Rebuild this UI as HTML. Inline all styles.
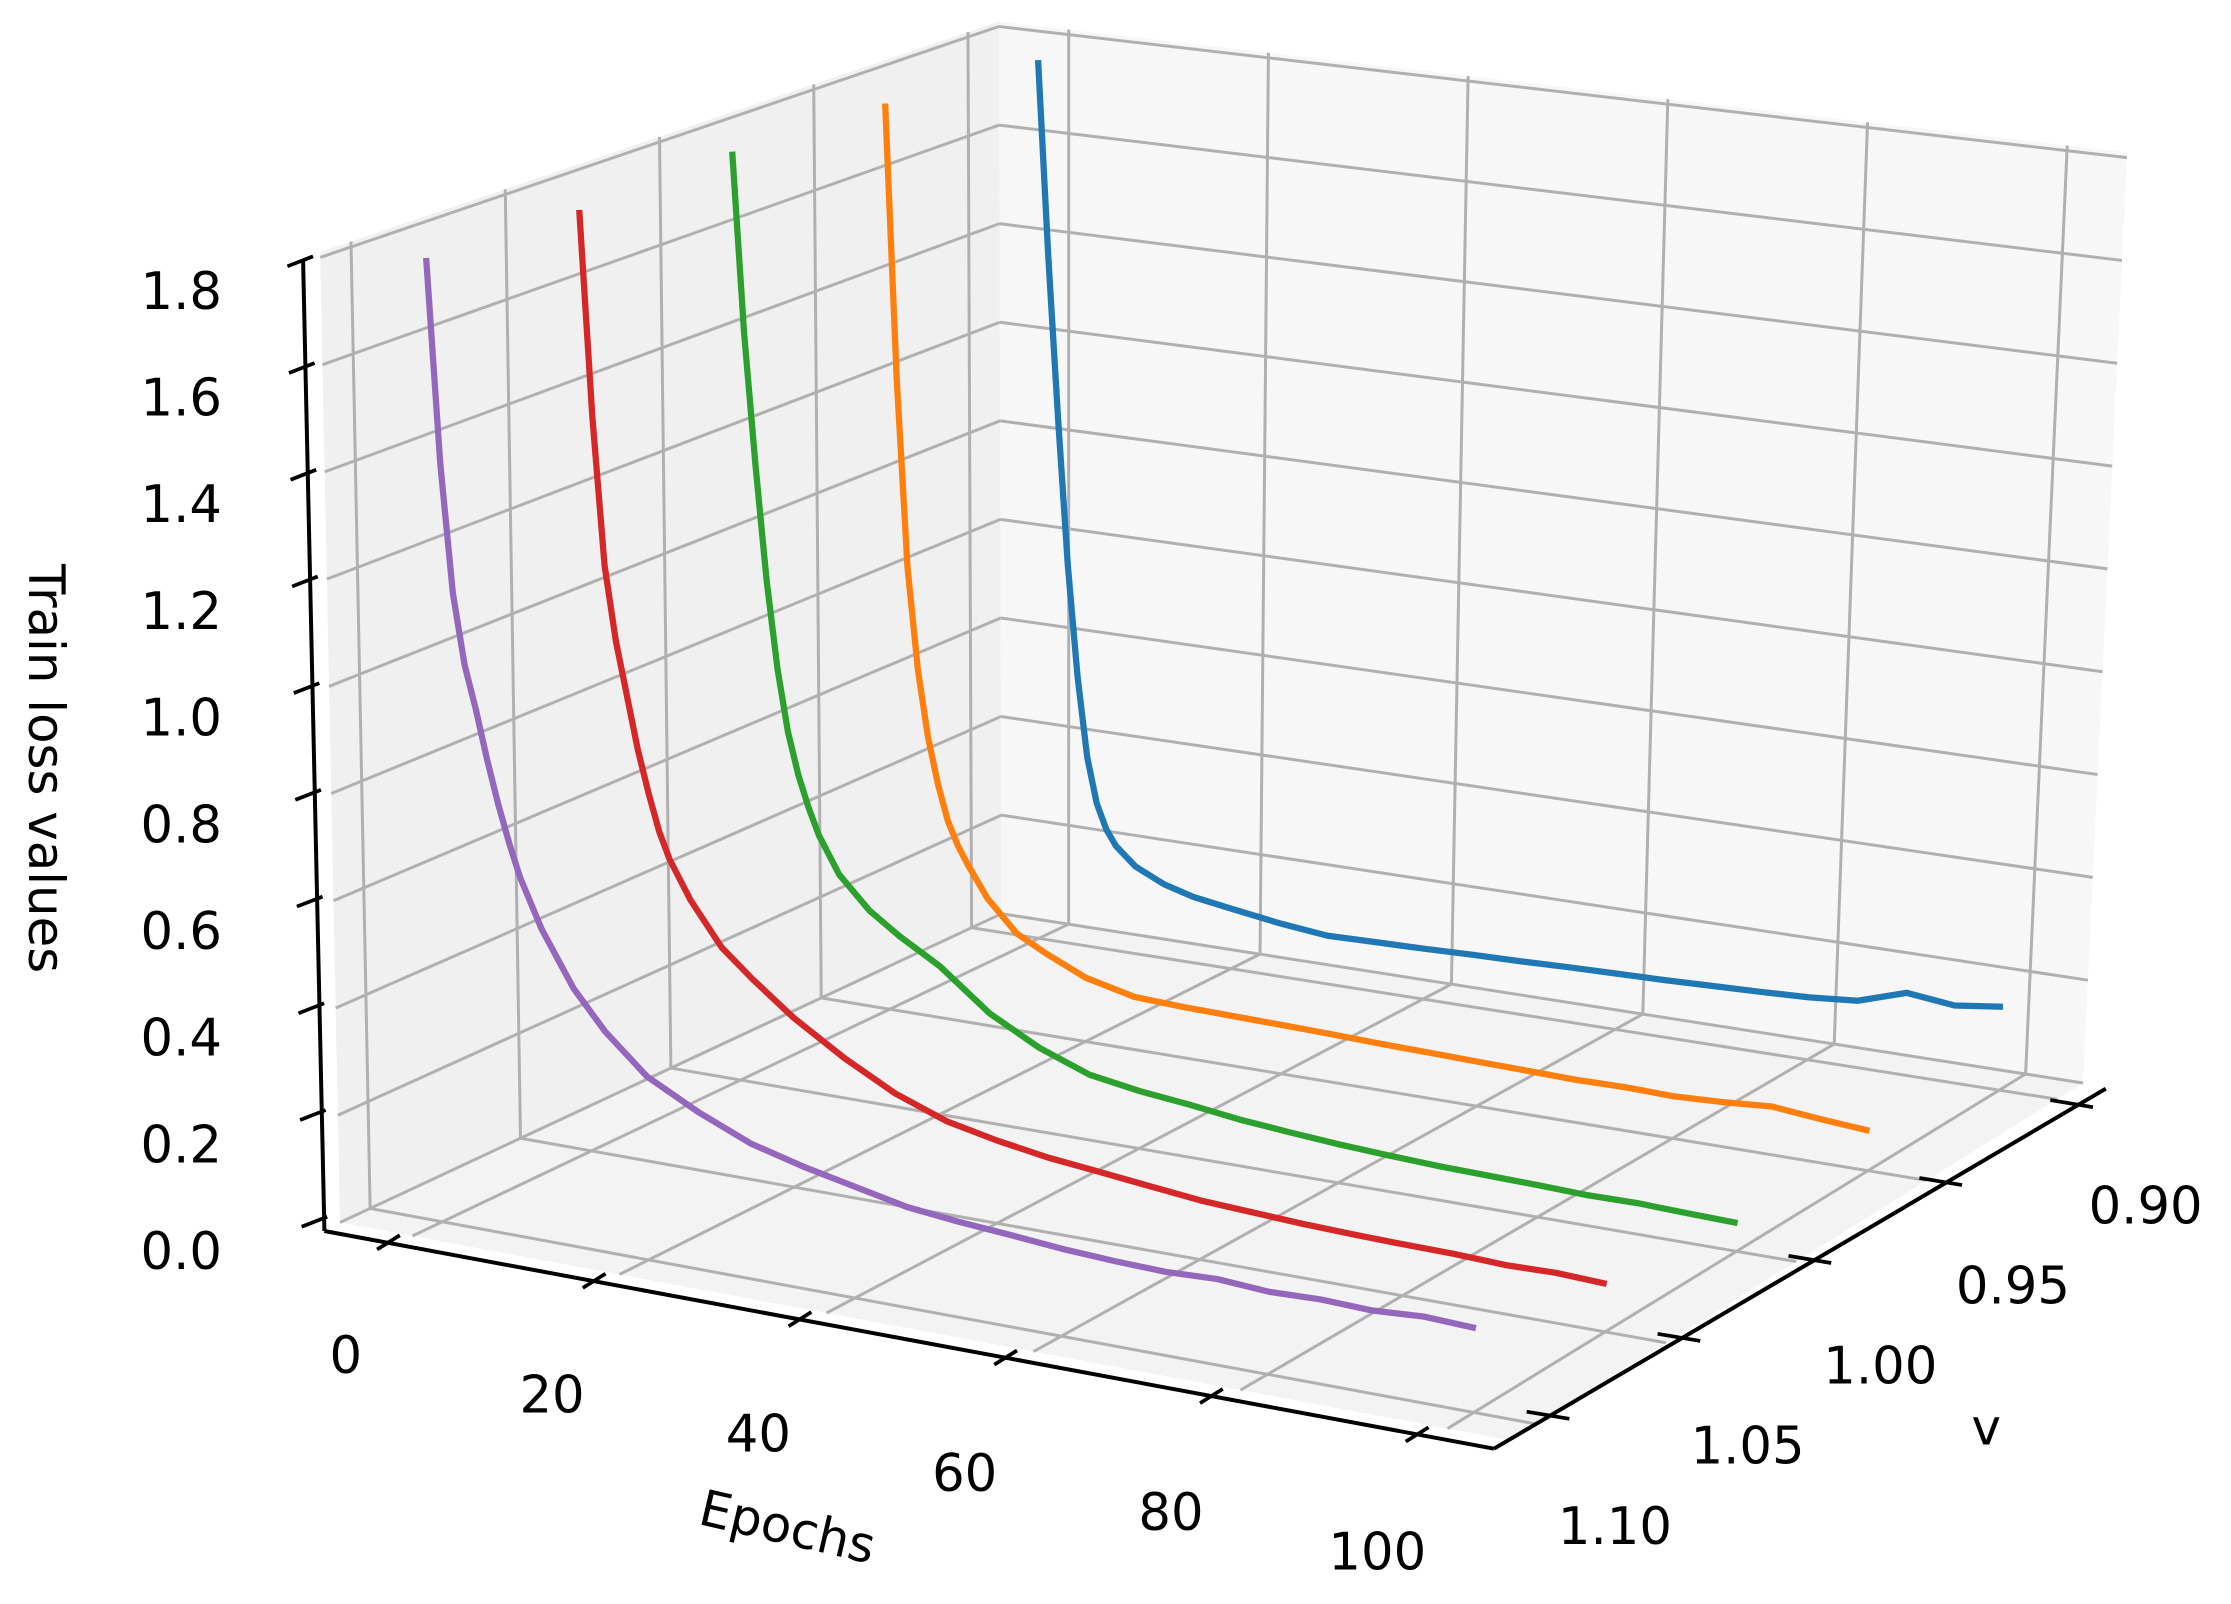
<!DOCTYPE html>
<html><head><meta charset="utf-8"><title>Train loss 3D</title>
<style>
html,body{margin:0;padding:0;background:#fff;}
svg{display:block;}
text{font-family:"DejaVu Sans","Liberation Sans",sans-serif;fill:#000;}
</style></head>
<body>
<svg id="chart" width="2231" height="1604" viewBox="0 0 1568 1127" xmlns="http://www.w3.org/2000/svg">
<g id="panes"></g>
<g id="grid"></g>
<g id="series"></g>
<g id="axes"></g>
<text x="30" y="540" font-size="35" text-anchor="middle" transform="rotate(90 30 540)" dominant-baseline="middle">Train loss values</text>
<text x="553" y="1085" font-size="35" text-anchor="middle" transform="rotate(13 553 1075)">Epochs</text>
<text x="1396" y="1015" font-size="35" text-anchor="middle">v</text>
</svg>
<script>
// ---- data ----
const epochs = [0,1,2,3,4,5,6,7,8,10,13,16,20,25,30,35,40,45,50,55,60,65,70,75,80,85,90,95,100];
const vValues = [0.90, 0.95, 1.00, 1.05, 1.10];
const seriesColors = ['#1f77b4','#ff7f0e','#2ca02c','#d62728','#9467bd'];
const lossV090 = [1.77,1.38,1.05,0.76,0.54,0.38,0.29,0.24,0.21,0.175,0.148,0.132,0.12,0.106,0.096,0.098,0.10,0.103,0.105,0.108,0.11,0.112,0.115,0.118,0.122,0.13,0.16,0.15,0.162];
const lossV095 = [1.79,1.25,0.88,0.68,0.55,0.46,0.39,0.345,0.31,0.25,0.19,0.16,0.125,0.103,0.099,0.097,0.095,0.093,0.09,0.088,0.086,0.084,0.082,0.083,0.081,0.085,0.092,0.083,0.076];
const lossV100 = [1.80,1.45,1.20,0.98,0.81,0.69,0.61,0.55,0.50,0.43,0.37,0.33,0.285,0.21,0.16,0.125,0.11,0.10,0.088,0.08,0.073,0.068,0.064,0.062,0.06,0.057,0.058,0.055,0.053];
const lossV105 = [1.79,1.40,1.12,0.98,0.88,0.78,0.70,0.63,0.58,0.51,0.43,0.38,0.32,0.26,0.21,0.175,0.155,0.14,0.13,0.12,0.11,0.105,0.10,0.097,0.095,0.094,0.09,0.092,0.088];
const lossV110 = [1.80,1.42,1.18,1.05,0.97,0.88,0.80,0.73,0.67,0.58,0.48,0.41,0.34,0.29,0.25,0.225,0.205,0.185,0.175,0.168,0.16,0.155,0.152,0.156,0.15,0.153,0.15,0.156,0.152];
const seriesLoss = [lossV090, lossV095, lossV100, lossV105, lossV110];
const epochTicks = [0,20,40,60,80,100];
const vTicks = [0.90,0.95,1.00,1.05,1.10];
const vTickLabels = ['0.90','0.95','1.00','1.05','1.10'];
const zTicks = [0,0.2,0.4,0.6,0.8,1.0,1.2,1.4,1.6,1.8];
const zTickLabels = ['0.0','0.2','0.4','0.6','0.8','1.0','1.2','1.4','1.6','1.8'];

// ---- projection (trilinear box) ----
const EMIN=-7, EMAX=106, VFRONT=1.11, VBACK=0.89, ZMAX=1.81;
const C = {
  b00:[239,859], b10:[1061,1012], b01:[704,642], b11:[1464,761],
  t00:[225,177], t10:[1080,303], t01:[702,15], t11:[1495,107]
};
function lerp(a,b,t){return [a[0]+(b[0]-a[0])*t, a[1]+(b[1]-a[1])*t];}
function P(e,v,z){
  const u=(e-EMIN)/(EMAX-EMIN), w=(VFRONT-v)/(VFRONT-VBACK), h=z/ZMAX;
  const b=lerp(lerp(C.b00,C.b10,u), lerp(C.b01,C.b11,u), w);
  const t=lerp(lerp(C.t00,C.t10,u), lerp(C.t01,C.t11,u), w);
  return lerp(b,t,h);
}
const NS='http://www.w3.org/2000/svg';
function mk(tag, attrs, parent){
  const el=document.createElementNS(NS,tag);
  for(const k in attrs) el.setAttribute(k, attrs[k]);
  parent.appendChild(el); return el;
}
function poly(pts){return pts.map(p=>p[0].toFixed(1)+','+p[1].toFixed(1)).join(' ');}

const panes=document.getElementById('panes');
let el;
el=mk('polygon',{points:poly([P(EMIN,VFRONT,0),P(EMIN,VBACK,0),P(EMIN,VBACK,ZMAX),P(EMIN,VFRONT,ZMAX)]),fill:'#f0f0f0'},panes);


el=mk('polygon',{points:poly([P(EMIN,VBACK,0),P(EMAX,VBACK,0),P(EMAX,VBACK,ZMAX),P(EMIN,VBACK,ZMAX)]),fill:'#f7f7f7'},panes);


el=mk('polygon',{points:poly([P(EMIN,VFRONT,0),P(EMAX,VFRONT,0),P(EMAX,VBACK,0),P(EMIN,VBACK,0)]),fill:'#f3f3f3'},panes);



const grid=document.getElementById('grid');
function gline(a,b,name){
  const l=mk('line',{x1:a[0],y1:a[1],x2:b[0],y2:b[1],stroke:'#b0b0b0','stroke-width':2.1},grid);
  
  
}
zTicks.forEach(z=>{
  gline(P(EMIN,VFRONT,z),P(EMIN,VBACK,z),'left-grid-z');
  gline(P(EMIN,VBACK,z),P(EMAX,VBACK,z),'back-grid-z');
});
vTicks.forEach(v=>{
  gline(P(EMIN,v,0),P(EMIN,v,ZMAX),'left-grid-v');
  gline(P(EMIN,v,0),P(EMAX,v,0),'floor-grid-v');
});
epochTicks.forEach(e=>{
  gline(P(e,VBACK,0),P(e,VBACK,ZMAX),'back-grid-epoch');
  gline(P(e,VFRONT,0),P(e,VBACK,0),'floor-grid-epoch');
});

const series=document.getElementById('series');
for(let s=0;s<vValues.length;s++){
  const pts=epochs.map((e,i)=>P(e,vValues[s],seriesLoss[s][i]));
  const pl=mk('polyline',{points:poly(pts),fill:'none',stroke:seriesColors[s],'stroke-width':4.4,'stroke-linejoin':'round'},series);
  
  
}

// ---- axes ----
const axes=document.getElementById('axes');
function aline(a,b,name,w){
  const l=mk('line',{x1:a[0],y1:a[1],x2:b[0],y2:b[1],stroke:'#000','stroke-width':w||2.8},axes);
  
  
}
function txt(x,y,s,name,anchor){
  const t=mk('text',{x:x,y:y,'font-size':36,'text-anchor':anchor||'middle','dominant-baseline':'middle'},axes);
  t.textContent=s;
  
  
}
// z axis
aline([228,865],[213,182],'z-axis-line');
zTicks.forEach((z,i)=>{
  const y=858+(183-858)*(z/1.8), x=222+(212-222)*(z/1.8);
  aline([x-10,y+4],[x+8,y-3],'z-tick',2.6);
  txt(156,y+24,zTickLabels[i],'z-tick-label','end');
});
// epoch axis
aline([228,865],[1050,1018],'epoch-axis-line');
epochTicks.forEach(e=>{
  const x=272+(995-272)*(e/100), y=873+(1008-873)*(e/100);
  aline([x-7,y+5],[x+9,y-5],'epoch-tick',2.6);
  txt(243+(968-243)*(e/100), 955+(1093-955)*(e/100), String(e),'epoch-tick-label');
});
// v axis
aline([1050,1018],[1480,765],'v-axis-line');
vTicks.forEach((v,i)=>{
  const t=(1.10-v)/0.20;
  const x=1095+(1463-1095)*t, y=995+(776-995)*t;
  aline([x-22,y-3],[x+8,y+2],'v-tick',2.6);
  txt(1135+(1508-1135)*t, 1075+(850-1075)*t, vTickLabels[i],'v-tick-label');
});
</script>
</body></html>
